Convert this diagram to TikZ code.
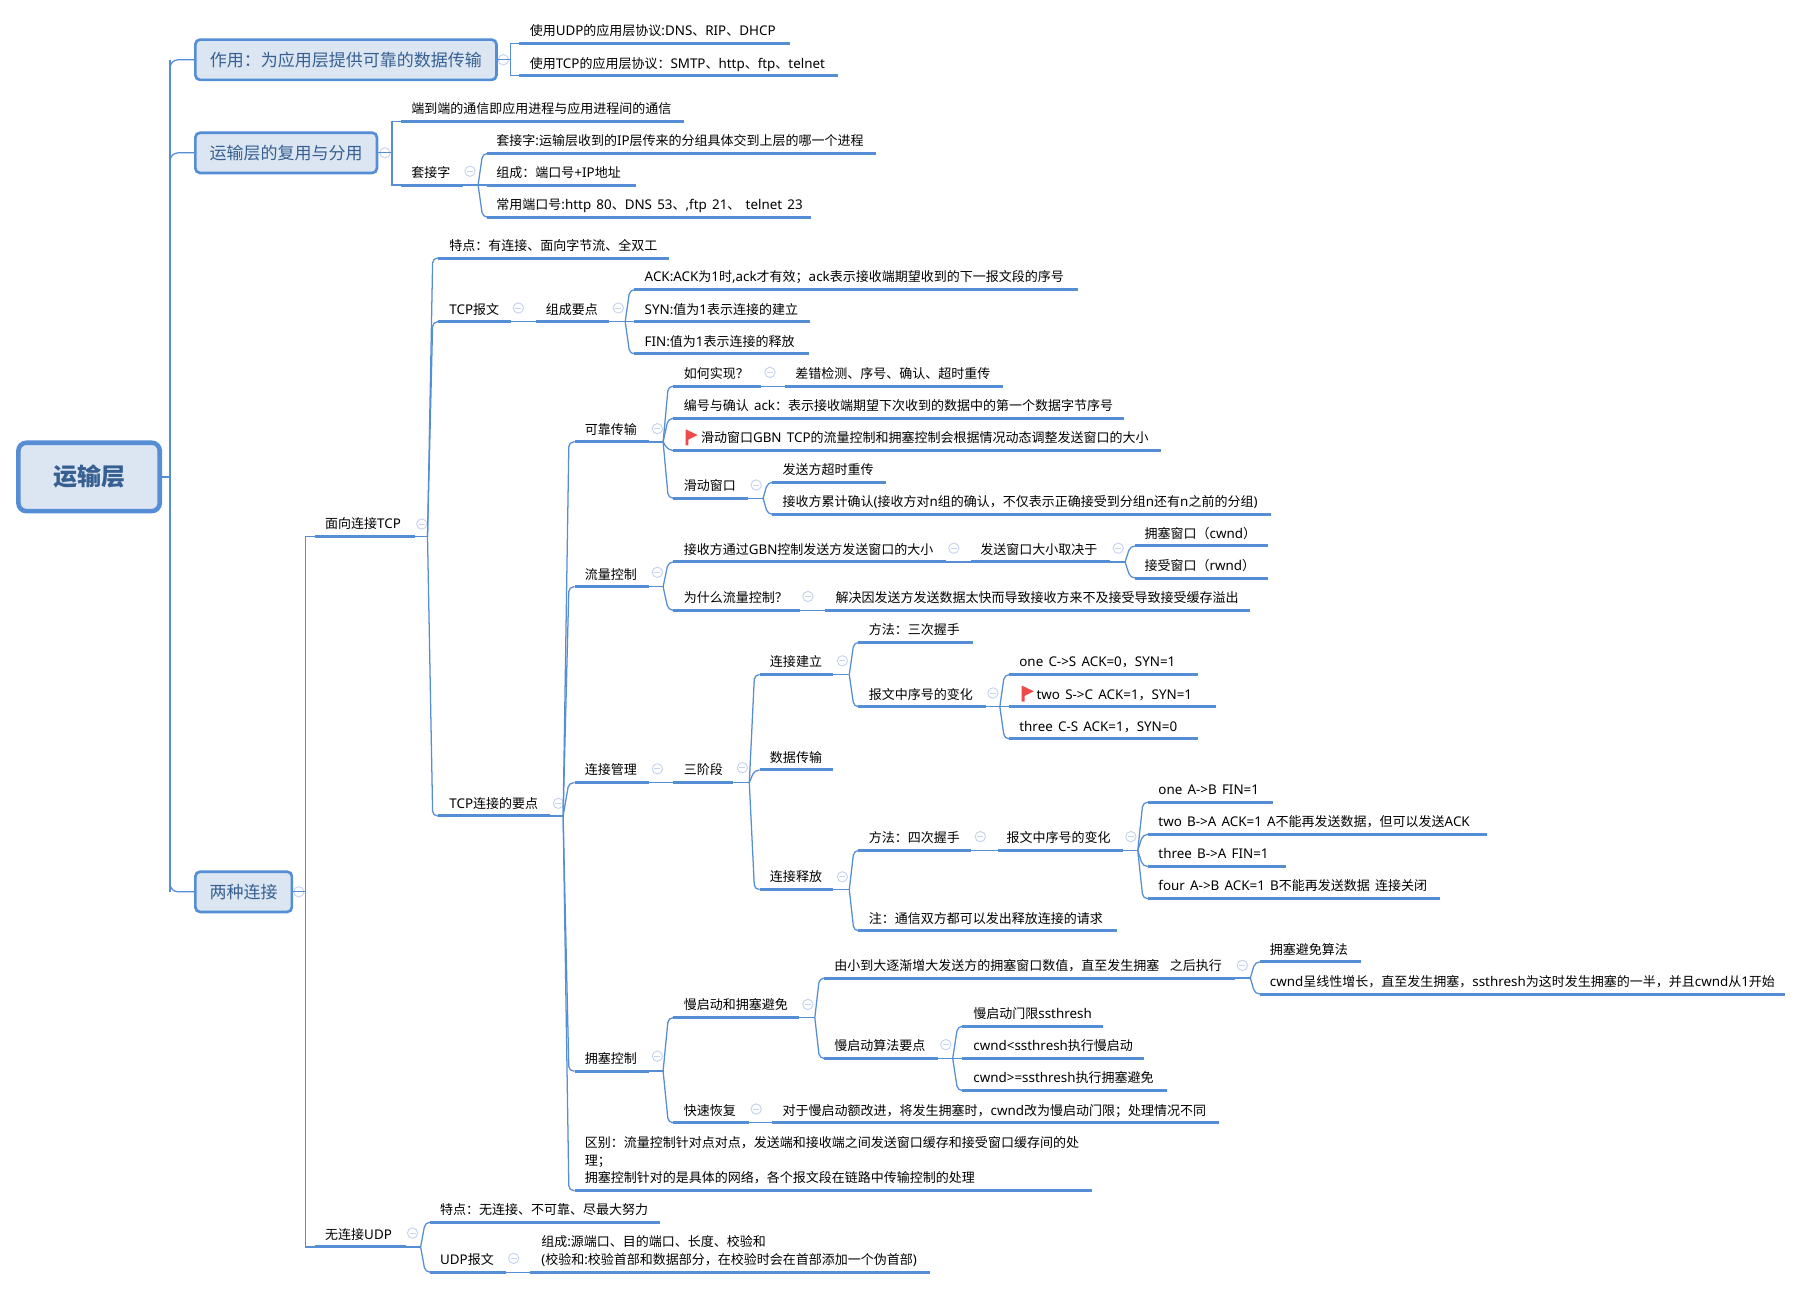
\documentclass[tikz,border=0pt]{standalone}
\usepackage{fontspec}
\usetikzlibrary{calc}
\setmainfont{Noto Sans}[Scale=1.03,WordSpace=1.5]
\newfontfamily\cjkface{Noto Sans CJK SC}
% Han characters and CJK punctuation switch to the CJK family automatically.
\newcount\cjkcode
\newcommand\cjkrange[2]{%
  \cjkcode=#1\relax
  \loop\XeTeXcharclass\cjkcode=1\relax
    \ifnum\cjkcode<#2\relax\advance\cjkcode by 1\repeat}
\cjkrange{"3000}{"303F}
\cjkrange{"4E00}{"9FFF}
\cjkrange{"FF00}{"FF60}
\XeTeXinterchartokenstate=1
\XeTeXinterchartoks 0 1={\begingroup\cjkface}
\XeTeXinterchartoks 4095 1={\begingroup\cjkface}
\XeTeXinterchartoks 1 0={\endgroup}
\XeTeXinterchartoks 1 4095={\endgroup}
\definecolor{branch}{HTML}{558ED5}
\definecolor{boxfill}{HTML}{DCE6F2}
\definecolor{boxtext}{HTML}{376092}
\definecolor{foldline}{HTML}{C5D3EE}
\definecolor{flagred}{HTML}{EF4B4B}
\def\unit{0.86186pt}
\tikzset{
  link/.style={draw=branch,line width=0.95pt},
  rule/.style={draw=branch,line width=2.25pt},
  topic/.style={inner sep=0pt,outer sep=0pt,anchor=south west,text depth=5.8pt,
    font=\fontsize{9.75}{12}\selectfont,text=black},
  framed/.style={draw=branch,fill=boxfill,rounded corners=3.5pt,line width=2pt,
    inner sep=0pt,outer sep=0pt,text=boxtext,font=\fontsize{12.75}{15}\selectfont},
  rootframed/.style={framed,line width=3.4pt,rounded corners=6pt,
    font=\fontsize{18}{21}\selectfont\bfseries},
  foldmark/.style={circle,draw=foldline,fill=white,line width=0.7pt,inner sep=0pt,
    minimum size={9*\unit},
    path picture={\draw[foldline,line width=0.7pt]
      ([xshift=1.6pt]path picture bounding box.west) --
      ([xshift=-1.6pt]path picture bounding box.east);}},
}
% A topic: text over a thick rule running from x1 to x2 at height y.
\newcommand\topic[6]{%
  \pgfmathsetlengthmacro\topicw{(#3-#2)*\unit}%
  \pgfmathsetlengthmacro\topicin{(#5-#2)*\unit}%
  \node[topic] (#1) at (#2,#4) {\makebox[\topicw][l]{\hspace*{\topicin}#6}};
  \draw[rule] (#1.south west) -- (#1.south east);
}
% Stacked lines whose baseline is that of the last line.
\newcommand\stacked[1]{\vbox{\baselineskip=13.4pt\lineskiplimit=-20pt #1}}
% Collapse marker beside a topic.
\newcommand\fold[3]{\node[foldmark] (#1-fold) at (#2,#3) {};}
% Connectors: a square elbow, and a slanted branch easing into the child's rule.
\newcommand\elbow[3]{\draw[link] (#1) -- (#2,0 |- #1) -- (#2,0 |- #3) -- (#3);}
\newcommand\fork[3]{%
  \draw[link] (#1) -- (#2,0 |- #1);
  \draw[link,rounded corners=3.6pt] (#2,0 |- #1) -- ($(#2,0 |- #3)!.5!(#3)$) -- (#3);}
\newcommand\flagmark[2]{%
  \fill[flagred] (#1,#2) -- (#1+10.5,#2+5) -- (#1+2.5,#2+9) -- (#1+2.5,#2+14) -- (#1,#2+14) -- cycle;}
\begin{document}
\begin{tikzpicture}[x=\unit,y=-\unit]
\useasboundingbox (0,0) rectangle (1568,1121.6);

% Central topic and the three main branches
\node[rootframed,minimum width={123*\unit},minimum height={59.5*\unit}] (root) at (77.5,415) {\raisebox{-0.8pt}{运输层}};
\node[framed,minimum width={262*\unit},minimum height={35*\unit}] (role) at (301,52) {\raisebox{-0.6pt}{作用：为应用层提供可靠的数据传输}};
\node[framed,minimum width={158*\unit},minimum height={35*\unit}] (mux) at (249,133) {\raisebox{-0.6pt}{运输层的复用与分用}};
\node[framed,minimum width={84*\unit},minimum height={35*\unit}] (conn) at (212,776) {\raisebox{-0.6pt}{两种连接}};
\draw[link] (root.east) -- (148,0 |- root.east);
\draw[link,rounded corners=6pt] (148,0 |- role.west) -- (148,0 |- conn.west);
\draw[link,rounded corners=6pt] (role.west) -- (148,0 |- role.west) -- (148,100);
\draw[link,rounded corners=6pt] (mux.west) -- (148,0 |- mux.west) -- (148,160);
\draw[link,rounded corners=6pt] (conn.west) -- (148,0 |- conn.west) -- (148,750);
\fold{role}{438}{52}\fold{mux}{335}{133}\fold{conn}{260}{776}

% Role of the transport layer
\topic{udpapps}{452}{687}{38}{461}{使用UDP的应用层协议:DNS、RIP、DHCP}
\topic{tcpapps}{452}{729}{66}{461}{使用TCP的应用层协议：SMTP、http、ftp、telnet}
\elbow{role.east}{444}{udpapps.south west}
\elbow{role.east}{444}{tcpapps.south west}

% Multiplexing and sockets
\topic{endend}{349}{595}{105.5}{358}{端到端的通信即应用进程与应用进程间的通信}
\topic{socket}{349}{403}{161}{358}{套接字}
\topic{sockdef}{424}{762}{133.5}{432}{套接字:运输层收到的IP层传来的分组具体交到上层的哪一个进程}
\topic{sockparts}{424}{553}{161}{432}{组成：端口号+IP地址}
\topic{sockports}{424}{706}{189}{432}{常用端口号:http 80、DNS 53、,ftp 21、 telnet 23}
\elbow{mux.east}{341}{endend.south west}
\elbow{mux.east}{341}{socket.south west}
\fork{socket.south east}{416}{sockdef.south west}
\draw[link] (socket.south east) -- (sockparts.south west);
\fork{socket.south east}{416}{sockports.south west}
\fold{socket}{409}{149}

% Connection-oriented and connectionless
\topic{tcp}{274}{361}{467}{283}{面向连接TCP}
\topic{udp}{274}{353}{1085}{283}{无连接UDP}
\elbow{conn.east}{266}{tcp.south west}
\elbow{conn.east}{266}{udp.south west}
\fold{tcp}{367}{456}\fold{udp}{359}{1073}

% TCP features and segment
\topic{tcpfeat}{381}{582}{224.5}{391}{特点：有连接、面向字节流、全双工}
\topic{tcpseg}{381}{445}{280}{391}{TCP报文}
\topic{segparts}{466}{530}{280}{475}{组成要点}
\topic{ackfield}{552}{938}{252}{561}{ACK:ACK为1时,ack才有效；ack表示接收端期望收到的下一报文段的序号}
\topic{synfield}{552}{705}{280}{561}{SYN:值为1表示连接的建立}
\topic{finfield}{552}{704}{308}{561}{FIN:值为1表示连接的释放}
\topic{tcpkeys}{381}{479}{710}{391}{TCP连接的要点}
\fork{tcp.south east}{372}{tcpfeat.south west}
\fork{tcp.south east}{372}{tcpseg.south west}
\fork{tcp.south east}{372}{tcpkeys.south west}
\draw[link] (tcpseg.south east) -- (segparts.south west);
\fork{segparts.south east}{544}{ackfield.south west}
\draw[link] (segparts.south east) -- (synfield.south west);
\fork{segparts.south east}{544}{finfield.south west}
\fold{tcpseg}{451}{268}\fold{segparts}{538}{268}\fold{tcpkeys}{486}{699}

% Reliable transfer
\topic{reliable}{500}{565}{384.5}{509}{可靠传输}
\topic{howto}{586}{662}{336}{595}{如何实现？}
\topic{howtoans}{683}{873}{336}{692}{差错检测、序号、确认、超时重传}
\topic{seqack}{586}{978}{364}{595}{编号与确认 ack：表示接收端期望下次收到的数据中的第一个数据字节序号}
\topic{gbn}{586}{1010}{392}{610}{滑动窗口GBN TCP的流量控制和拥塞控制会根据情况动态调整发送窗口的大小}
\topic{slide}{586}{651}{433.5}{595}{滑动窗口}
\topic{slidea}{672}{771}{419.7}{681}{发送方超时重传}
\topic{slideb}{672}{1106}{447.6}{681}{接收方累计确认(接收方对n组的确认，不仅表示正确接受到分组n还有n之前的分组)}
\flagmark{596.5}{373.5}
\fork{reliable.south east}{577}{howto.south west}
\fork{reliable.south east}{577}{seqack.south west}
\fork{reliable.south east}{577}{gbn.south west}
\fork{reliable.south east}{577}{slide.south west}
\draw[link] (howto.south east) -- (howtoans.south west);
\fork{slide.south east}{664}{slidea.south west}
\fork{slide.south east}{664}{slideb.south west}
\fold{reliable}{572}{373}\fold{howto}{670}{324}\fold{slide}{658}{422}

% Flow control
\topic{flow}{500}{565}{510.6}{509}{流量控制}
\topic{flowa}{586}{823}{489}{595}{接收方通过GBN控制发送方发送窗口的大小}
\topic{flowb}{845}{966}{489}{853}{发送窗口大小取决于}
\topic{cwndwin}{988}{1103}{475}{996}{拥塞窗口（cwnd）}
\topic{rwndwin}{988}{1103}{503}{996}{接受窗口（rwnd）}
\topic{whyflow}{586}{696}{531}{595}{为什么流量控制？}
\topic{whyans}{718}{1088}{531}{727}{解决因发送方发送数据太快而导致接收方来不及接受导致接受缓存溢出}
\fork{flow.south east}{577}{flowa.south west}
\fork{flow.south east}{577}{whyflow.south west}
\draw[link] (flowa.south east) -- (flowb.south west);
\fork{flowb.south east}{979}{cwndwin.south west}
\fork{flowb.south east}{979}{rwndwin.south west}
\draw[link] (whyflow.south east) -- (whyans.south west);
\fold{flow}{572}{498}\fold{flowa}{830}{477}\fold{flowb}{973}{477}\fold{whyflow}{703}{519}

% Connection management
\topic{manage}{500}{565}{681}{509}{连接管理}
\topic{phases}{586}{638}{681}{595}{三阶段}
\topic{setup}{661}{725}{587}{670}{连接建立}
\topic{setupm}{747}{847}{559}{756}{方法：三次握手}
\topic{setups}{747}{858}{615}{756}{报文中序号的变化}
\topic{sone}{878}{1042}{587}{887}{one C->S ACK=0，SYN=1}
\topic{stwo}{878}{1058}{615}{902}{two S->C ACK=1，SYN=1}
\topic{sthree}{878}{1042}{643}{887}{three C-S ACK=1，SYN=0}
\flagmark{889}{596.5}
\topic{transfer}{661}{725}{670}{670}{数据传输}
\topic{release}{661}{725}{774}{670}{连接释放}
\topic{relm}{747}{845}{740}{756}{方法：四次握手}
\topic{rels}{868}{977}{740}{876}{报文中序号的变化}
\topic{rone}{999}{1108}{698}{1008}{one A->B FIN=1}
\topic{rtwo}{999}{1294}{726}{1008}{two B->A ACK=1 A不能再发送数据，但可以发送ACK}
\topic{rthree}{999}{1119}{754}{1008}{three B->A FIN=1}
\topic{rfour}{999}{1253}{782}{1008}{four A->B ACK=1 B不能再发送数据 连接关闭}
\topic{relnote}{747}{972}{810}{756}{注：通信双方都可以发出释放连接的请求}
\fork{tcpkeys.south east}{490}{manage.south west}
\draw[link] (manage.south east) -- (phases.south west);
\fork{phases.south east}{652}{setup.south west}
\fork{phases.south east}{652}{transfer.south west}
\fork{phases.south east}{652}{release.south west}
\fork{setup.south east}{739}{setupm.south west}
\fork{setup.south east}{739}{setups.south west}
\fork{setups.south east}{870}{sone.south west}
\draw[link] (setups.south east) -- (stwo.south west);
\fork{setups.south east}{870}{sthree.south west}
\fork{release.south east}{739}{relm.south west}
\fork{release.south east}{739}{relnote.south west}
\draw[link] (relm.south east) -- (rels.south west);
\fork{rels.south east}{990}{rone.south west}
\fork{rels.south east}{990}{rtwo.south west}
\fork{rels.south east}{990}{rthree.south west}
\fork{rels.south east}{990}{rfour.south west}
\fold{manage}{572}{669}\fold{phases}{646}{668}\fold{setup}{733}{575}\fold{setups}{864}{603}
\fold{release}{733}{763}\fold{relm}{853}{728}\fold{rels}{984}{728}

% Congestion control
\topic{congest}{500}{565}{932}{509}{拥塞控制}
\topic{slowstart}{586}{695}{885.5}{595}{慢启动和拥塞避免}
\topic{grow}{717}{1075}{851}{726}{由小到大逐渐增大发送方的拥塞窗口数值，直至发生拥塞\ \ 之后执行}
\topic{avoid}{1096}{1184}{837}{1105}{拥塞避免算法}
\topic{linear}{1096}{1553}{865}{1105}{cwnd呈线性增长，直至发生拥塞，ssthresh为这时发生拥塞的一半，并且cwnd从1开始}
\topic{algo}{717}{816}{921}{726}{慢启动算法要点}
\topic{thresh}{837.5}{960}{893}{847}{慢启动门限ssthresh}
\topic{below}{837.5}{995.5}{921}{847}{cwnd<ssthresh执行慢启动}
\topic{above}{837.5}{1015.5}{949}{847}{cwnd>=ssthresh执行拥塞避免}
\topic{fast}{586}{652}{977}{595}{快速恢复}
\topic{fastans}{672}{1060.5}{977}{681}{对于慢启动额改进，将发生拥塞时，cwnd改为慢启动门限；处理情况不同}
\topic{contrast}{500}{950}{1036}{509}{\stacked{\hbox{区别：流量控制针对点对点，发送端和接收端之间发送窗口缓存和接受窗口缓存间的处}\hbox{理；}\hbox{拥塞控制针对的是具体的网络，各个报文段在链路中传输控制的处理}}}
\fork{congest.south east}{577}{slowstart.south west}
\fork{congest.south east}{577}{fast.south west}
\fork{slowstart.south east}{709}{grow.south west}
\fork{slowstart.south east}{709}{algo.south west}
\fork{grow.south east}{1088}{avoid.south west}
\fork{grow.south east}{1088}{linear.south west}
\fork{algo.south east}{829}{thresh.south west}
\draw[link] (algo.south east) -- (below.south west);
\fork{algo.south east}{829}{above.south west}
\draw[link] (fast.south east) -- (fastans.south west);
\fold{congest}{572}{919}\fold{slowstart}{703}{874}\fold{grow}{1081}{840}\fold{algo}{823}{909}\fold{fast}{658}{965}

% Branches of the key points of a TCP connection
\fork{tcpkeys.south east}{490}{reliable.south west}
\fork{tcpkeys.south east}{490}{flow.south west}
\fork{tcpkeys.south east}{490}{congest.south west}
\fork{tcpkeys.south east}{490}{contrast.south west}

% UDP
\topic{udpfeat}{374}{574.5}{1063.5}{383}{特点：无连接、不可靠、尽最大努力}
\topic{udpseg}{374}{440}{1107}{383}{UDP报文}
\topic{udpparts}{461.5}{809}{1107}{471}{\stacked{\hbox{组成:源端口、目的端口、长度、校验和}\hbox{(校验和:校验首部和数据部分，在校验时会在首部添加一个伪首部)}}}
\fork{udp.south east}{366}{udpfeat.south west}
\fork{udp.south east}{366}{udpseg.south west}
\draw[link] (udpseg.south east) -- (udpparts.south west);
\fold{udpseg}{447}{1095}
\end{tikzpicture}
\end{document}
